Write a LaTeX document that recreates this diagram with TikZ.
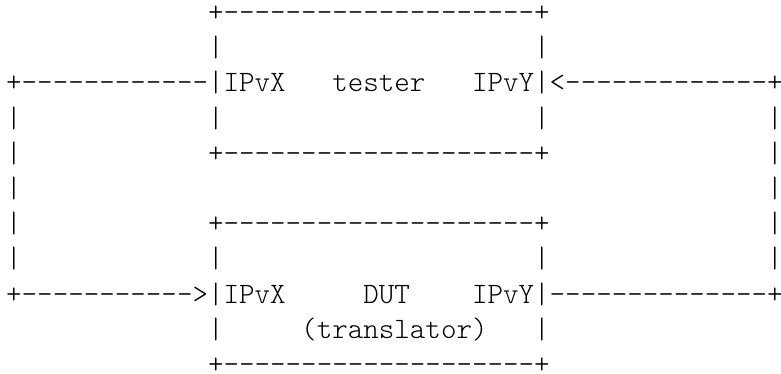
\documentclass[tikz,border=0pt]{standalone}
\usepackage{fontspec}
\setmonofont{Latin Modern Mono Light}
\usetikzlibrary{matrix}

\begin{document}
\begin{tikzpicture}[x=1pt,y=1pt]
\useasboundingbox (0,0) rectangle (362.1,-173.4);
\matrix(a)[matrix of nodes, anchor=north west,
inner sep=0pt, outer sep=0pt, row sep=6.32pt,
nodes={anchor=base west, inner sep=0pt, outer sep=0pt,
text height=10pt, text depth=0pt,
font=\ttfamily\fontsize{13.714}{16}\selectfont}]
at (2.87,0)
{
~~~~~~~~~~~~~+--------------------+ \\
~~~~~~~~~~~~~|~~~~~~~~~~~~~~~~~~~~| \\
+------------|IPvX~~~tester~~~IPvY|<-------------+ \\
{}|~~~~~~~~~~~~|~~~~~~~~~~~~~~~~~~~~|~~~~~~~~~~~~~~| \\
{}|~~~~~~~~~~~~+--------------------+~~~~~~~~~~~~~~| \\
{}|~~~~~~~~~~~~~~~~~~~~~~~~~~~~~~~~~~~~~~~~~~~~~~~~| \\
{}|~~~~~~~~~~~~+--------------------+~~~~~~~~~~~~~~| \\
{}|~~~~~~~~~~~~|~~~~~~~~~~~~~~~~~~~~|~~~~~~~~~~~~~~| \\
+----------->|IPvX~~~~~DUT~~~~IPvY|--------------+ \\
~~~~~~~~~~~~~|~~~~~(translator)~~~| \\
~~~~~~~~~~~~~+--------------------+ \\
};
\end{tikzpicture}
\end{document}
